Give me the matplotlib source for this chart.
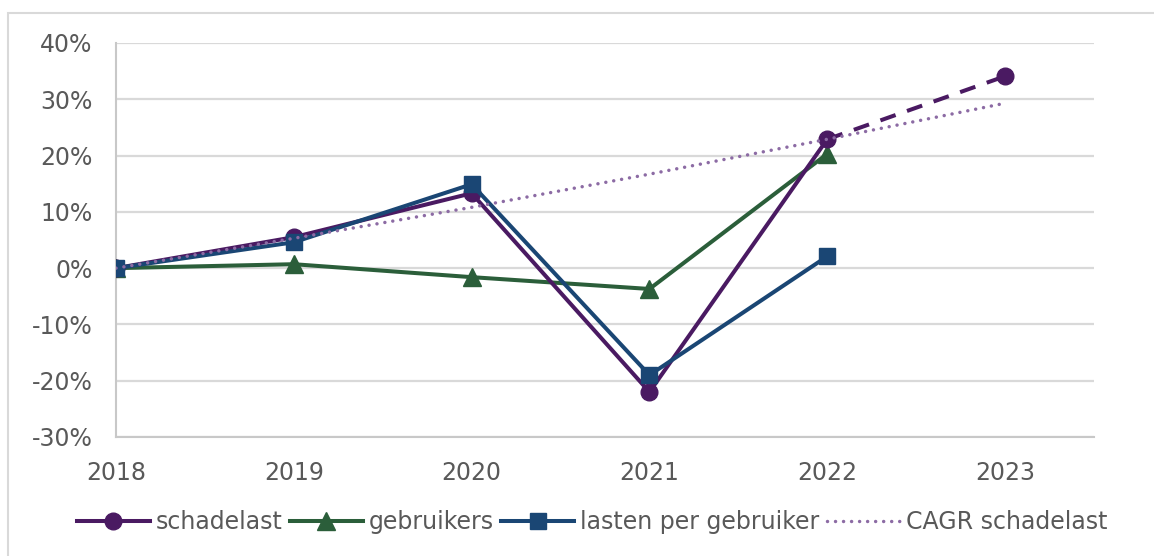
import matplotlib
matplotlib.use("Agg")
import matplotlib.pyplot as plt
from matplotlib.patches import Rectangle
from matplotlib.ticker import FuncFormatter, MultipleLocator

# values (percent change vs 2018)
years = [2018, 2019, 2020, 2021, 2022, 2023]
schadelast = [0.0, 5.5, 13.3, -22.0, 22.9]
schadelast_forecast = [22.9, 34.1]          # 2022 -> 2023, dashed
gebruikers = [0.0, 0.7, -1.6, -3.7, 20.3]
lasten_per_gebruiker = [0.0, 4.6, 14.9, -19.0, 2.1]
cagr_schadelast = [0.0, 5.3, 10.8, 16.7, 22.9, 29.3]

PURPLE = "#4a1a62"
GREEN = "#2b5e3a"
BLUE = "#1a4674"
CAGR_COL = "#8c6ba4"
TEXT = "#595959"

plt.rcParams["font.family"] = ["DejaVu Sans"]
plt.rcParams["axes.unicode_minus"] = False

fig = plt.figure(figsize=(11.54, 5.56), dpi=100)
ax = fig.add_axes([116 / 1154, 1 - 437 / 556, (1094 - 116) / 1154, (437 - 43) / 556])

# outer chart border
fig.patches.append(Rectangle((8 / 1154, -0.05), 1.1, 1 - 13 / 556 + 0.05,
                             transform=fig.transFigure, fill=False,
                             edgecolor="#d9d9d9", linewidth=1.5, zorder=0))

lw = 2.9
ms = 12
ax.plot(years[:5], schadelast, color=PURPLE, lw=lw, marker="o", ms=ms,
        label="schadelast", zorder=4)
ax.plot(years[4:], schadelast_forecast, color=PURPLE, lw=lw, ls=(0, (4, 3)),
        marker="o", ms=ms, markevery=[1], zorder=4)
ax.plot(years[:5], gebruikers, color=GREEN, lw=lw, marker="^", ms=ms + 1,
        label="gebruikers", zorder=3)
ax.plot(years[:5], lasten_per_gebruiker, color=BLUE, lw=lw, marker="s", ms=ms,
        label="lasten per gebruiker", zorder=5)
ax.plot(years, cagr_schadelast, color=CAGR_COL, lw=2.5, ls=(0, (0.01, 2.3)),
        dash_capstyle="round", label="CAGR schadelast", zorder=6)

ax.set_xlim(2018, 2023.5)
ax.set_ylim(-30, 40)
ax.set_xticks(years)
ax.yaxis.set_major_locator(MultipleLocator(10))
ax.yaxis.set_major_formatter(FuncFormatter(lambda v, p: f"{v:.0f}%"))
ax.grid(axis="y", color="#d9d9d9", lw=1.6)
ax.set_axisbelow(True)
for side in ["top", "right"]:
    ax.spines[side].set_visible(False)
for side in ["left", "bottom"]:
    ax.spines[side].set_color("#c8c8c8")
    ax.spines[side].set_linewidth(1.5)
ax.tick_params(axis="both", length=0, labelsize=17, labelcolor=TEXT)
ax.tick_params(axis="y", pad=17)
ax.tick_params(axis="x", pad=17)

handles, labels = ax.get_legend_handles_labels()
fig.legend(handles, labels, loc="center", bbox_to_anchor=(592 / 1154, 1 - 522 / 556),
           ncol=4, frameon=False, fontsize=17, labelcolor=TEXT,
           handlelength=3.1, handletextpad=0.25, columnspacing=0.3)

fig.savefig("out.png", dpi=100)
